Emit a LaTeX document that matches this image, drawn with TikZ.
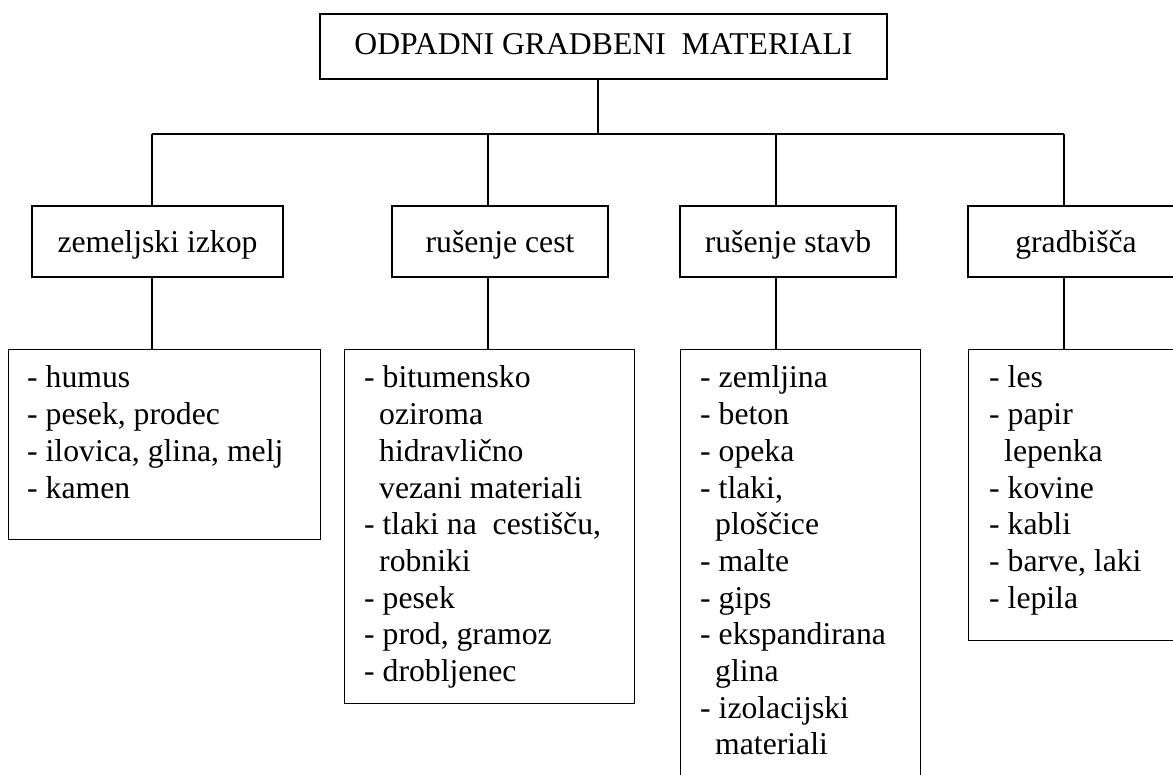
\documentclass[tikz,border=0pt]{standalone}
\usepackage{fontspec}
\setmainfont{Liberation Serif}
\setlength{\parindent}{0pt}
\newcommand\diagfont{\fontsize{31.7}{36.7}\selectfont}
\newcommand\itemlist[2]{\parbox[t]{#1}{\raggedright\diagfont #2}}
\newcommand\cont{\hspace*{15pt}}
\tikzset{
  rule/.style={line width=1.1pt, black},
  headbox/.style={draw, rule, inner sep=0pt, font=\diagfont},
  catbox/.style={headbox, minimum height=71pt, text height=26pt, text depth=3pt},
  listbox/.style={draw, rule, inner sep=0pt, anchor=north west},
  listtext/.style={anchor=base west, inner sep=0pt}
}
\begin{document}
\begin{tikzpicture}[x=1pt, y=-1pt]
  \useasboundingbox (0,0) rectangle (1173,775);
  \clip (0,0) rectangle (1173,775);

  % root
  \node[headbox, minimum width=567pt, minimum height=65pt, text height=20pt, text depth=3pt]
    (root) at (603.5,46.5) {ODPADNI GRADBENI\ \ MATERIALI};

  % categories
  \node[catbox, minimum width=251pt] (zem) at (157.5,241.5) {zemeljski izkop};
  \node[catbox, minimum width=216pt] (ces) at (500,241.5) {rušenje cest};
  \node[catbox, minimum width=216pt] (sta) at (788,241.5) {rušenje stavb};
  \node[catbox, minimum width=216pt] (gra) at (1076,241.5) {gradbišča};

  % material lists (frames)
  \node[listbox, minimum width=312pt, minimum height=190pt] (zemL) at (8,349) {};
  \node[listbox, minimum width=290pt, minimum height=354pt] (cesL) at (344,349) {};
  \node[listbox, minimum width=240pt, minimum height=451pt] (staL) at (680,349) {};
  \node[listbox, minimum width=216pt, minimum height=291pt] (graL) at (968,349) {};

  % material lists (texts), placed on the first baseline
  \node[listtext] (zemT) at (27,388) {\itemlist{290pt}{- humus\\
    - pesek, prodec\\
    - ilovica, glina, melj\\
    - kamen}};
  \node[listtext] (cesT) at (364,388) {\itemlist{265pt}{- bitumensko\\
    \cont oziroma\\
    \cont hidravlično\\
    \cont vezani materiali\\
    - tlaki na\ \ cestišču,\\
    \cont robniki\\
    - pesek\\
    - prod, gramoz\\
    - drobljenec}};
  \node[listtext] (staT) at (700,388) {\itemlist{215pt}{- zemljina\\
    - beton\\
    - opeka\\
    - tlaki,\\
    \cont ploščice\\
    - malte\\
    - gips\\
    - ekspandirana\\
    \cont glina\\
    - izolacijski\\
    \cont materiali}};
  \node[listtext] (graT) at (989,388) {\itemlist{180pt}{- les\\
    - papir\\
    \cont lepenka\\
    - kovine\\
    - kabli\\
    - barve, laki\\
    - lepila}};

  % branching lines
  \coordinate (hub) at (598,134);
  \coordinate (b1) at (152,134);
  \coordinate (b2) at (488,134);
  \coordinate (b3) at (776,134);
  \coordinate (b4) at (1064,134);

  \draw[rule] (root.south -| hub) -- (hub);
  \draw[rule] (b1) -- (b4);
  \draw[rule] (b1) -- (b1 |- zem.north);
  \draw[rule] (b2) -- (b2 |- ces.north);
  \draw[rule] (b3) -- (b3 |- sta.north);
  \draw[rule] (b4) -- (b4 |- gra.north);

  \draw[rule] (zem.south -| b1) -- (zemL.north -| b1);
  \draw[rule] (ces.south -| b2) -- (cesL.north -| b2);
  \draw[rule] (sta.south -| b3) -- (staL.north -| b3);
  \draw[rule] (gra.south -| b4) -- (graL.north -| b4);
\end{tikzpicture}
\end{document}
